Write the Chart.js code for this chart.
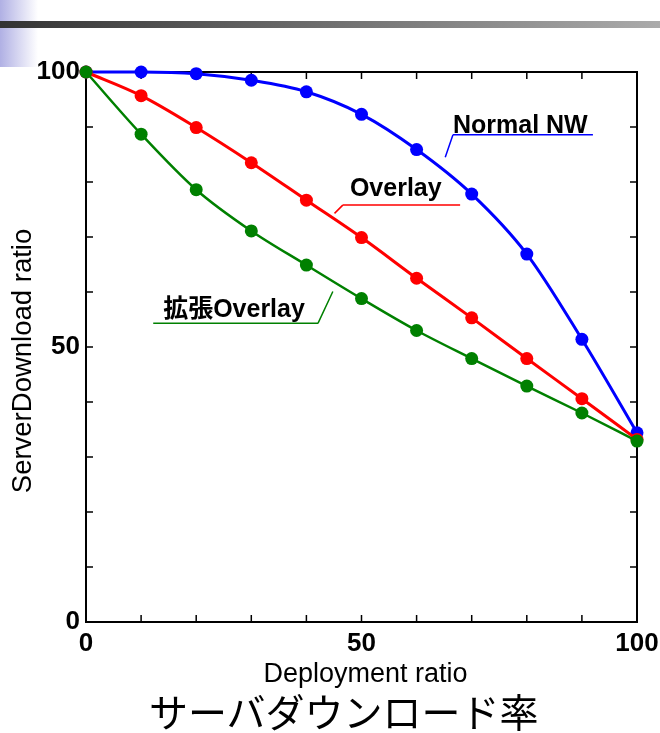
<!DOCTYPE html>
<html>
<head>
<meta charset="utf-8">
<script src="https://cdn.jsdelivr.net/npm/chart.js@4.4.1/dist/chart.umd.min.js"></script>
<style>
  html, body { margin: 0; padding: 0; background: #fff; }
  #wrap { position: relative; width: 660px; height: 733px; overflow: hidden; }
  .side { position: absolute; left: 0; top: 0; width: 38px; height: 67px;
          background: linear-gradient(to right, #b0b0e4, #ffffff); }
  .bar { position: absolute; left: 0; top: 21px; width: 660px; height: 7px;
         background: linear-gradient(to right, #333333, #ababab); }
  #chart { position: absolute; left: 0; top: 0; }
  .caption { position: absolute; left: 149px; top: 691px; line-height: 39px;
             font-family: "Noto Sans CJK JP", sans-serif; font-size: 39px; color: #000;
             white-space: nowrap; }
</style>
</head>
<body>
<div id="wrap">
  <div class="side"></div>
  <div class="bar"></div>
  <canvas id="chart" width="660" height="733"></canvas>
  <div class="caption">サーバダウンロード率</div>
</div>
<script>
// Deployment ratio (%) on the x axis
const deploymentRatio = [0, 10, 20, 30, 40, 50, 60, 70, 80, 90, 100];

// Server download ratio (%) for each scheme
const normalNW   = [100, 100, 99.7, 98.5, 96.4, 92.3, 85.9, 77.8, 66.9, 51.4, 34.4];
const overlay    = [100, 95.7, 89.9, 83.5, 76.7, 69.9, 62.5, 55.3, 47.9, 40.6, 33.2];
const extOverlay = [100, 88.7, 78.6, 71.1, 64.9, 58.8, 53.0, 47.9, 42.9, 38.0, 32.9];

const seriesNames = ['Normal NW', 'Overlay', '拡張Overlay'];

// Labelled ticks and the small inward tick marks
const xTickLabels = [0, 50, 100];
const yTickLabels = [0, 50, 100];
const minorTicks  = [0, 10, 20, 30, 40, 50, 60, 70, 80, 90, 100];

const xTitle = 'Deployment ratio';
const yTitle = 'ServerDownload ratio';

const FONT = '"Liberation Sans", Arial, "Noto Sans CJK JP", sans-serif';
const colors = { nw: '#0000ff', ov: '#ff0000', ext: '#008000' };

function toPoints(ys) {
  return deploymentRatio.map((x, i) => ({ x: x, y: ys[i] }));
}

// Callout labels, anchored in data units: text start, underline span, leader end
const callouts = [
  { text: seriesNames[0], color: colors.nw,  tx: 66.6, ty: 89.0, ux0: 66.6, ux1: 92.0, uy: 88.6, lx: 65.2, ly: 84.5, join: 'start' },
  { text: seriesNames[1], color: colors.ov,  tx: 47.9, ty: 77.4, ux0: 46.6, ux1: 67.9, uy: 75.8, lx: 45.1, ly: 74.3, join: 'start' },
  { text: seriesNames[2], color: colors.ext, tx: 14.0, ty: 55.5, ux0: 12.2, ux1: 42.1, uy: 54.3, lx: 44.8, ly: 60.1, join: 'end' }
];

const framePlugin = {
  id: 'frame',
  beforeDatasetsDraw(chart) {
    const { ctx, chartArea: a, scales: { x, y } } = chart;
    ctx.save();
    ctx.strokeStyle = '#000';
    ctx.lineWidth = 2;
    ctx.strokeRect(a.left, a.top, a.right - a.left, a.bottom - a.top);
    ctx.lineWidth = 1.5;
    const len = 7;
    ctx.beginPath();
    minorTicks.forEach(v => {
      const px = x.getPixelForValue(v);
      ctx.moveTo(px, a.bottom); ctx.lineTo(px, a.bottom - len);
      ctx.moveTo(px, a.top);    ctx.lineTo(px, a.top + len);
      const py = y.getPixelForValue(v);
      ctx.moveTo(a.left, py);  ctx.lineTo(a.left + len, py);
      ctx.moveTo(a.right, py); ctx.lineTo(a.right - len, py);
    });
    ctx.stroke();
    ctx.restore();
  },
  afterDraw(chart) {
    const { ctx, chartArea: a, scales: { x, y } } = chart;
    ctx.save();
    ctx.fillStyle = '#000';
    // axis titles
    ctx.font = '27px ' + FONT;
    ctx.textAlign = 'center';
    ctx.textBaseline = 'middle';
    ctx.fillText(xTitle, (a.left + a.right) / 2 + 4, a.bottom + 53);
    ctx.save();
    ctx.translate(23, (a.top + a.bottom) / 2 + 14);
    ctx.rotate(-Math.PI / 2);
    ctx.font = '27.5px ' + FONT;
    ctx.fillText(yTitle, 0, 0);
    ctx.restore();

    // callout labels with underline and leader line
    callouts.forEach(c => {
      ctx.font = 'bold 25px ' + FONT;
      ctx.textAlign = 'left';
      ctx.textBaseline = 'alphabetic';
      ctx.fillStyle = '#000';
      ctx.fillText(c.text, x.getPixelForValue(c.tx), y.getPixelForValue(c.ty));
      ctx.strokeStyle = c.color;
      ctx.lineWidth = 1.5;
      const ux0 = x.getPixelForValue(c.ux0), ux1 = x.getPixelForValue(c.ux1);
      const uy = y.getPixelForValue(c.uy);
      const jx = c.join === 'start' ? ux0 : ux1;
      ctx.beginPath();
      ctx.moveTo(ux1, uy); ctx.lineTo(ux0, uy);
      ctx.moveTo(jx, uy);
      ctx.lineTo(x.getPixelForValue(c.lx), y.getPixelForValue(c.ly));
      ctx.stroke();
    });
    ctx.restore();
  }
};

function series(label, ys, color, width, order) {
  return {
    label: label,
    data: toPoints(ys),
    borderColor: color,
    backgroundColor: color,
    borderWidth: width,
    pointRadius: 6.5,
    pointHoverRadius: 6.5,
    pointBackgroundColor: color,
    pointBorderColor: color,
    pointBorderWidth: 0,
    cubicInterpolationMode: 'monotone',
    clip: false,
    order: order
  };
}

new Chart(document.getElementById('chart'), {
  type: 'line',
  data: {
    datasets: [
      series(seriesNames[2], extOverlay, colors.ext, 2.5, 0),
      series(seriesNames[1], overlay, colors.ov, 3, 1),
      series(seriesNames[0], normalNW, colors.nw, 3, 2)
    ]
  },
  options: {
    responsive: false,
    animation: false,
    events: [],
    layout: { padding: { top: 72, right: 23, left: 0, bottom: 0 } },
    plugins: { legend: { display: false }, tooltip: { enabled: false } },
    scales: {
      x: {
        type: 'linear', min: 0, max: 100,
        afterFit(s) { s.height = 111; s.paddingLeft = 0; s.paddingRight = 0; },
        afterBuildTicks(s) { s.ticks = xTickLabels.map(v => ({ value: v })); },
        grid: { display: false, drawTicks: false },
        border: { display: false },
        ticks: { color: '#000', padding: 6, maxRotation: 0,
                 font: { family: FONT, size: 26, weight: 'bold' } }
      },
      y: {
        type: 'linear', min: 0, max: 100,
        afterFit(s) { s.width = 86; s.paddingTop = 0; s.paddingBottom = 0; },
        afterBuildTicks(s) { s.ticks = yTickLabels.map(v => ({ value: v })); },
        grid: { display: false, drawTicks: false },
        border: { display: false },
        ticks: { color: '#000', padding: 6,
                 font: { family: FONT, size: 26, weight: 'bold' } }
      }
    }
  },
  plugins: [framePlugin]
});
</script>
</body>
</html>
